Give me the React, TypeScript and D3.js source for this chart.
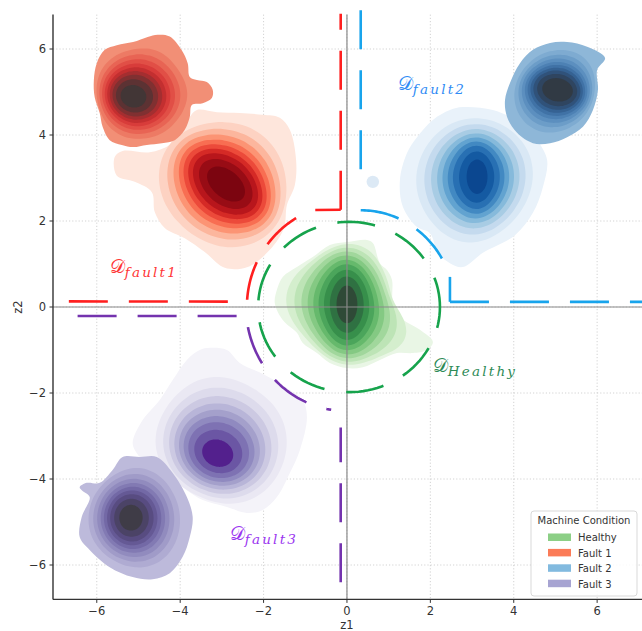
import React from 'react';
import * as d3 from 'd3';

type Pt = [number, number];

const WIDTH = 642;
const HEIGHT = 631;
const X_DOMAIN: Pt = [-7.05, 7.1];
const Y_DOMAIN: Pt = [-6.8, 6.8];
const X_TICKS = [-6, -4, -2, 0, 2, 4, 6];
const Y_TICKS = [-6, -4, -2, 0, 2, 4, 6];

// relative position of each filled contour level between the outer outline (0) and the core (1)
const LEVEL_STEPS = [0, 0.22, 0.34, 0.44, 0.53, 0.61, 0.69, 0.77, 0.87, 1];
const HEALTHY_STEPS = [0, 0.1, 0.2, 0.3, 0.4, 0.5, 0.6, 0.71, 0.84, 1];

// ---- Fault 1 ----
const fault1OuterOutline: Pt[] = [
  [-4.54, 6.33], [-4.25, 6.29], [-3.97, 5.98], [-3.82, 5.67], [-3.77, 5.35], [-3.6, 5.28], [-3.36, 5.23],
  [-3.22, 5.05], [-3.24, 4.86], [-3.46, 4.74], [-3.72, 4.7], [-3.77, 4.42], [-3.89, 4.12], [-4.13, 3.88],
  [-4.44, 3.81], [-4.8, 3.77], [-5.13, 3.72], [-5.4, 3.77], [-5.69, 3.88], [-5.86, 4.19], [-5.93, 4.51],
  [-6.05, 4.88], [-6.07, 5.28], [-6.0, 5.67], [-5.81, 5.98], [-5.52, 6.09], [-5.13, 6.16], [-4.78, 6.28],
];
const fault1OuterCore = [-5.12, 4.9, 0.26, 0.31, 80];
const fault1OuterShape = [0.3, 1.2];
const fault1OuterColors = ['#f28f76', '#ed7a64', '#e86454', '#e14f46', '#d83c3a', '#c32f30', '#a42e30', '#803031', '#5c3233', '#423636'];

const fault1InnerOutline: Pt[] = [
  [-5.57, 3.49], [-5.38, 3.63], [-4.73, 3.6], [-4.25, 3.77], [-3.96, 4.05], [-3.77, 4.42], [-3.6, 4.58],
  [-3.12, 4.53], [-2.57, 4.51], [-2.02, 4.47], [-1.61, 4.4], [-1.37, 4.12], [-1.22, 3.42], [-1.25, 2.84],
  [-1.44, 2.37], [-1.51, 1.84], [-1.85, 1.33], [-2.38, 0.93], [-2.93, 0.91], [-3.41, 1.28], [-3.89, 1.6],
  [-4.37, 1.84], [-4.61, 2.21], [-4.68, 2.67], [-5.09, 2.91], [-5.52, 3.05],
];
const fault1InnerCore = [-2.9, 2.86, 0.52, 0.32, -38];
const fault1InnerShape = [0.8, 1.1];
const fault1InnerColors = ['#fee6dc', '#fdd2c2', '#fcb69d', '#fc9474', '#f86e52', '#ec4a3a', '#d52a26', '#b8161c', '#980c15', '#7c0510'];

// ---- Fault 2 ----
const fault2OuterOutline: Pt[] = [
  [5.28, 6.16], [5.76, 6.05], [6.19, 5.79], [6.0, 5.51], [6.02, 5.05], [5.9, 4.58], [5.66, 4.19], [5.28, 3.95],
  [4.87, 3.81], [4.46, 3.81], [4.08, 4.05], [3.84, 4.42], [3.79, 4.81], [3.91, 5.21], [4.15, 5.67], [4.46, 5.98],
  [4.87, 6.14],
];
const fault2OuterCore = [5.05, 5.05, 0.37, 0.27, -10];
const fault2OuterShape = [0.3, 1.2];
const fault2OuterColors = ['#8eb7d8', '#7eabd1', '#6c9dc8', '#5c8fbf', '#4d81b4', '#4072a6', '#356293', '#30527a', '#2f4560', '#313a44'];

const fault2InnerOutline: Pt[] = [
  [2.78, 4.65], [3.5, 4.58], [4.15, 4.28], [4.56, 3.88], [4.8, 3.42], [4.7, 2.79], [4.46, 2.19], [4.03, 1.67],
  [3.26, 1.26], [2.78, 0.93], [2.47, 1.02], [2.18, 1.26], [1.99, 1.72], [1.68, 1.86], [1.34, 2.33], [1.27, 2.95],
  [1.44, 3.58], [1.68, 3.95], [2.06, 4.35], [2.47, 4.58],
];
const fault2InnerCore = [3.12, 3.03, 0.25, 0.4, 0];
const fault2InnerShape = [0.4, 2.2];
const fault2InnerColors = ['#e9f2fa', '#d9e8f5', '#c4daee', '#a8cce4', '#86badb', '#62a3d0', '#4289c2', '#2870b3', '#145aa2', '#0b4790'];
const fault2Island = [0.62, 2.91, 0.15, 0.14];

// ---- Healthy ----
const healthyOutline: Pt[] = [
  [0.48, 1.56], [0.62, 1.49], [0.79, 1.02], [0.96, 0.86], [1.08, 0.63], [1.1, 0.09], [1.27, -0.23],
  [1.75, -0.53], [2.06, -0.81], [1.92, -1.0], [1.58, -1.07], [1.2, -1.07], [0.79, -1.23], [0.38, -1.4],
  [0.0, -1.42], [-0.41, -1.3], [-0.72, -1.07], [-1.06, -0.84], [-1.2, -0.6], [-1.54, -0.3], [-1.73, 0.09],
  [-1.68, 0.4], [-1.54, 0.7], [-1.2, 0.93], [-0.82, 1.16], [-0.41, 1.44], [0.0, 1.51],
];
const healthyCore = [0.0, 0.06, 0.25, 0.44, 0];
const healthyShape = [0.3, 0.9];
const healthyColors = ['#e9f6e5', '#d4eecd', '#bde4b6', '#a1d79c', '#84c983', '#66b96c', '#4ba55b', '#378f4b', '#2f7142', '#2f4a37'];

// ---- Fault 3 ----
const fault3InnerOutline: Pt[] = [
  [-3.29, -0.95], [-2.88, -1.0], [-2.57, -1.3], [-1.97, -1.58], [-1.37, -1.93], [-1.06, -2.16], [-0.96, -2.56],
  [-1.13, -3.33], [-1.37, -3.86], [-1.68, -4.42], [-2.02, -4.72], [-2.4, -4.79], [-2.88, -4.65], [-3.46, -4.49],
  [-3.84, -4.26], [-4.25, -3.95], [-4.73, -3.72], [-5.04, -3.4], [-5.14, -3.16], [-4.9, -2.63], [-4.49, -2.16],
  [-4.18, -1.7], [-3.84, -1.23], [-3.53, -1.0],
];
const fault3InnerCore = [-3.1, -3.4, 0.38, 0.31, -20];
const fault3InnerShape = [0.45, 1.4];
const fault3InnerColors = ['#f4f3f9', '#eae8f3', '#dddbec', '#ccc9e2', '#b8b5d8', '#a4a0cb', '#908ac0', '#7e72b3', '#6b56a4', '#53208d'];

const fault3OuterOutline: Pt[] = [
  [-4.97, -3.49], [-4.56, -3.49], [-4.18, -3.86], [-3.84, -4.42], [-3.7, -4.88], [-3.77, -5.35], [-3.94, -5.81],
  [-4.25, -6.19], [-4.66, -6.33], [-5.14, -6.28], [-5.69, -6.05], [-6.17, -5.65], [-6.41, -5.35], [-6.36, -4.88],
  [-6.17, -4.42], [-6.36, -4.26], [-6.41, -4.19], [-6.24, -4.09], [-5.93, -4.09], [-5.62, -3.79], [-5.38, -3.49],
];
const fault3OuterCore = [-5.18, -4.9, 0.28, 0.3, 0];
const fault3OuterShape = [0.3, 1.2];
const fault3OuterColors = ['#bdbadb', '#afabd2', '#a09bc8', '#918bbe', '#827ab3', '#7369a6', '#655995', '#584c81', '#4b4366', '#3f3c47'];

// ---- decision boundaries (data units) ----
const redBoundaryA = { start: [-6.67, 0.13] as Pt, arc: [0, 0, 2.4, 177, 110], end: [-0.15, 2.26] as Pt };
const redBoundaryB: Pt[] = [[-0.15, 2.26], [-0.15, 6.82]];
const blueBoundaryA: Pt[] = [[0.33, 6.9], [0.33, 2.75]];
const blueBoundaryArc = [0.33, 0, 2.25, 90, 18];
const blueBoundaryB: Pt[] = [[2.47, 0.12], [2.47, 0.7]];
const blueBoundaryC: Pt[] = [[2.47, 0.12], [7.2, 0.12]];
const purpleBoundaryA = { start: [-6.46, -0.21] as Pt, arc: [0, 0, 2.42, 185, 261] };
const purpleBoundaryB: Pt[] = [[-0.15, -6.4], [-0.15, -2.8]];
const greenBoundary = [0.05, 0, 2.18, 1.98];

const BOUNDARY_COLORS = { red: '#ff1f1f', blue: '#18a4ec', green: '#16a34c', purple: '#7433ae' };

const REGION_LABELS = [
  { sub: 'fault1', x: -5.69, y: 0.79, color: '#ff3535' },
  { sub: 'fault2', x: 1.22, y: 5.05, color: '#2f8cf5' },
  { sub: 'Healthy', x: 2.06, y: -1.51, color: '#2e8b57' },
  { sub: 'fault3', x: -2.81, y: -5.42, color: '#9a35f0' },
];

const LEGEND_TITLE = 'Machine Condition';
const LEGEND_ITEMS = ['Healthy', 'Fault 1', 'Fault 2', 'Fault 3'];
const LEGEND_COLORS = ['#8ccf86', '#fb7b57', '#82badf', '#a7a4d2'];

const M = 96;
const NH = 16;

function radial(outline: Pt[], c: Pt): number[] {
  const out: number[] = [];
  for (let j = 0; j < M; j++) {
    const th = (2 * Math.PI * j) / M;
    const dx = Math.cos(th);
    const dy = Math.sin(th);
    let best = 0;
    for (let i = 0; i < outline.length; i++) {
      const p = outline[i];
      const q = outline[(i + 1) % outline.length];
      const ex = q[0] - p[0];
      const ey = q[1] - p[1];
      const det = -dx * ey + ex * dy;
      if (Math.abs(det) < 1e-12) continue;
      const px = p[0] - c[0];
      const py = p[1] - c[1];
      const t = (-px * ey + ex * py) / det;
      const u = (dx * py - dy * px) / det;
      if (t > 0 && u >= 0 && u <= 1 && t > best) best = t;
    }
    out.push(best);
  }
  return out;
}

function blobLevels(outline: Pt[], core: number[], shape: number[], steps: number[]): Pt[][] {
  const [lam, pw] = shape;
  let c: Pt = [d3.mean(outline, (p) => p[0]) as number, d3.mean(outline, (p) => p[1]) as number];
  let r = radial(outline, c);
  for (let it = 0; it < 4; it++) {
    let a1 = 0;
    let b1 = 0;
    r.forEach((v, j) => {
      const th = (2 * Math.PI * j) / M;
      a1 += (2 / M) * v * Math.cos(th);
      b1 += (2 / M) * v * Math.sin(th);
    });
    c = [c[0] + a1 * 0.8, c[1] + b1 * 0.8];
    r = radial(outline, c);
  }
  const A: number[] = [];
  const B: number[] = [];
  for (let n = 0; n <= NH; n++) {
    let a = 0;
    let b = 0;
    r.forEach((v, j) => {
      const th = (2 * Math.PI * j) / M;
      a += v * Math.cos(n * th);
      b += v * Math.sin(n * th);
    });
    A.push(((n === 0 ? 1 : 2) / M) * a);
    B.push(((n === 0 ? 1 : 2) / M) * b);
  }
  const Rd = A[0];
  const [ccx, ccy, ea, eb, rotDeg] = core;
  const rot = (rotDeg * Math.PI) / 180;
  const Re = Math.sqrt(ea * eb);
  const re = (t: number) => {
    const u = t - rot;
    return (ea * eb) / Math.sqrt((eb * Math.cos(u)) ** 2 + (ea * Math.sin(u)) ** 2);
  };
  return steps.map((w, k) => {
    if (k === 0) return outline;
    const s = Math.pow(w, pw);
    const R = Rd + (Re - Rd) * w;
    const m = Math.pow(w, 0.6);
    const cx = c[0] + (ccx - c[0]) * m;
    const cy = c[1] + (ccy - c[1]) * m;
    const pts: Pt[] = [];
    for (let j = 0; j < M; j += 2) {
      const th = (2 * Math.PI * j) / M;
      let f = A[0];
      for (let n = 2; n <= NH; n++) {
        const damp = Math.exp(-lam * w * n * n);
        f += damp * (A[n] * Math.cos(n * th) + B[n] * Math.sin(n * th));
      }
      const g = f / A[0];
      const e = re(th) / Re;
      const rad = R * ((1 - s) * g + s * e);
      pts.push([cx + rad * Math.cos(th), cy + rad * Math.sin(th)]);
    }
    return pts;
  });
}

function arcPts(spec: number[], n = 60): Pt[] {
  const [cx, cy, rr, a0, a1] = spec;
  return d3.range(n + 1).map((i) => {
    const t = ((a0 + ((a1 - a0) * i) / n) * Math.PI) / 180;
    return [cx + rr * Math.cos(t), cy + rr * Math.sin(t)] as Pt;
  });
}

export default function App() {
  const x = d3.scaleLinear().domain(X_DOMAIN).range([53, 643]);
  const y = d3.scaleLinear().domain(Y_DOMAIN).range([599.4, 14.6]);
  const closed = d3
    .line<Pt>()
    .x((p) => x(p[0]))
    .y((p) => y(p[1]))
    .curve(d3.curveCatmullRomClosed.alpha(0.5));
  const open = d3
    .line<Pt>()
    .x((p) => x(p[0]))
    .y((p) => y(p[1]));

  const blobs = [
    { outline: fault1InnerOutline, core: fault1InnerCore, shape: fault1InnerShape, colors: fault1InnerColors, steps: LEVEL_STEPS },
    { outline: fault1OuterOutline, core: fault1OuterCore, shape: fault1OuterShape, colors: fault1OuterColors, steps: LEVEL_STEPS },
    { outline: fault2InnerOutline, core: fault2InnerCore, shape: fault2InnerShape, colors: fault2InnerColors, steps: LEVEL_STEPS },
    { outline: fault2OuterOutline, core: fault2OuterCore, shape: fault2OuterShape, colors: fault2OuterColors, steps: LEVEL_STEPS },
    { outline: fault3InnerOutline, core: fault3InnerCore, shape: fault3InnerShape, colors: fault3InnerColors, steps: LEVEL_STEPS },
    { outline: fault3OuterOutline, core: fault3OuterCore, shape: fault3OuterShape, colors: fault3OuterColors, steps: LEVEL_STEPS },
    { outline: healthyOutline, core: healthyCore, shape: healthyShape, colors: healthyColors, steps: HEALTHY_STEPS },
  ];

  const redA = [redBoundaryA.start, ...arcPts(redBoundaryA.arc), redBoundaryA.end];
  const purpleA = [purpleBoundaryA.start, ...arcPts(purpleBoundaryA.arc)];
  const greenPts: Pt[] = d3.range(0, 121).map((i) => {
    const t = (i / 120) * Math.PI * 2;
    return [greenBoundary[0] + greenBoundary[2] * Math.cos(t), greenBoundary[1] + greenBoundary[3] * Math.sin(t)];
  });

  const dash = { fill: 'none', strokeWidth: 2.6, strokeDasharray: '39 21' } as any;
  const tickFont = { fontFamily: 'DejaVu Sans', fontSize: 11.5, fill: '#333' } as any;
  const minus = (v: number) => (v < 0 ? '\u2212' + Math.abs(v) : String(v));

  return (
    <svg width={WIDTH} height={HEIGHT} style={{ position: 'absolute', left: 0, top: 0, background: '#fff' }}>
      {/* grid */}
      <g stroke="#c8c8c8" strokeWidth={0.8} strokeDasharray="1.2 2">
        {X_TICKS.map((t) => (
          <line key={'gx' + t} x1={x(t)} x2={x(t)} y1={y(6.8)} y2={y(-6.8)} />
        ))}
        {Y_TICKS.map((t) => (
          <line key={'gy' + t} x1={x(-7.05)} x2={x(7.1)} y1={y(t)} y2={y(t)} />
        ))}
      </g>
      {/* density blobs */}
      {blobs.map((b, bi) => (
        <g key={'b' + bi}>
          {blobLevels(b.outline, b.core, b.shape, b.steps).map((ring, k) => (
            <path key={k} d={closed(ring) || ''} fill={b.colors[k]} />
          ))}
        </g>
      ))}
      <ellipse
        cx={x(fault2Island[0])}
        cy={y(fault2Island[1])}
        rx={x(fault2Island[2]) - x(0)}
        ry={y(0) - y(fault2Island[3])}
        fill="#dce9f5"
      />
      {/* zero lines */}
      <line x1={x(0)} x2={x(0)} y1={y(6.8)} y2={y(-6.8)} stroke="#8a8a8a" strokeWidth={1.2} />
      <line x1={x(-7.05)} x2={x(7.1)} y1={y(0)} y2={y(0)} stroke="#8a8a8a" strokeWidth={1.2} />
      {/* boundaries */}
      <path d={open(redA) || ''} stroke={BOUNDARY_COLORS.red} {...dash} />
      <path d={open(redBoundaryB) || ''} stroke={BOUNDARY_COLORS.red} {...dash} />
      <path d={open(blueBoundaryA) || ''} stroke={BOUNDARY_COLORS.blue} {...dash} />
      <path d={open(arcPts(blueBoundaryArc)) || ''} stroke={BOUNDARY_COLORS.blue} {...dash} />
      <path d={open(blueBoundaryB) || ''} stroke={BOUNDARY_COLORS.blue} {...dash} />
      <path d={open(blueBoundaryC) || ''} stroke={BOUNDARY_COLORS.blue} {...dash} />
      <path d={open(purpleA) || ''} stroke={BOUNDARY_COLORS.purple} {...dash} />
      <path d={open(purpleBoundaryB) || ''} stroke={BOUNDARY_COLORS.purple} {...dash} />
      <path d={open(greenPts) || ''} stroke={BOUNDARY_COLORS.green} {...dash} strokeDasharray="38 22" strokeDashoffset={8} />
      {/* region labels */}
      {REGION_LABELS.map((l) => (
        <text key={l.sub} x={x(l.x)} y={y(l.y)} fill={l.color} fontFamily="DejaVu Serif">
          <tspan fontSize={19}>{'\u{1D49F}'}</tspan>
          <tspan fontSize={13.5} fontStyle="italic" dy={4} letterSpacing={2.2}>
            {l.sub}
          </tspan>
        </text>
      ))}
      {/* spines */}
      <line x1={53} x2={53} y1={y(6.8)} y2={y(-6.8)} stroke="#333" strokeWidth={1.4} />
      <line x1={53} x2={642} y1={y(-6.8)} y2={y(-6.8)} stroke="#333" strokeWidth={1.4} />
      {/* ticks */}
      {X_TICKS.map((t) => (
        <g key={'tx' + t}>
          <line x1={x(t)} x2={x(t)} y1={y(-6.8)} y2={y(-6.8) + 3.5} stroke="#333" strokeWidth={1} />
          <text x={x(t)} y={y(-6.8) + 15.5} textAnchor="middle" {...tickFont}>
            {minus(t)}
          </text>
        </g>
      ))}
      {Y_TICKS.map((t) => (
        <g key={'ty' + t}>
          <line x1={53} x2={49.5} y1={y(t)} y2={y(t)} stroke="#333" strokeWidth={1} />
          <text x={46} y={y(t) + 4} textAnchor="end" {...tickFont}>
            {minus(t)}
          </text>
        </g>
      ))}
      <text x={x(0)} y={629} textAnchor="middle" {...tickFont}>
        z1
      </text>
      <text x={0} y={0} transform={`translate(22,${y(0)}) rotate(-90)`} textAnchor="middle" {...tickFont}>
        z2
      </text>
      {/* legend */}
      <g fontFamily="DejaVu Sans" fontSize={10} fill="#333">
        <rect x={531} y={511} width={106} height={85} rx={3} fill="#fff" fillOpacity={0.85} stroke="#cfcfcf" strokeWidth={0.8} />
        <text x={584} y={524} textAnchor="middle">
          {LEGEND_TITLE}
        </text>
        {LEGEND_ITEMS.map((name, i) => (
          <g key={name}>
            <rect x={548} y={533.5 + i * 15.4} width={23} height={7.5} fill={LEGEND_COLORS[i]} />
            <text x={578} y={541.3 + i * 15.4}>
              {name}
            </text>
          </g>
        ))}
      </g>
    </svg>
  );
}
